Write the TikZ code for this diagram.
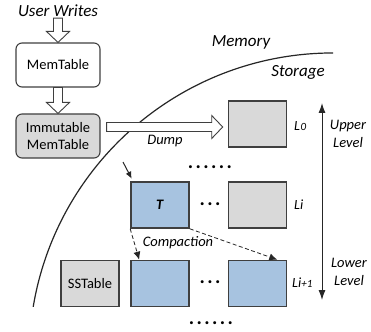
\documentclass[tikz,border=0pt]{standalone}
\usepackage{fontspec}
\setmainfont{Carlito}
\usetikzlibrary{calc,arrows.meta}

\definecolor{edge}{HTML}{3F3F3F}
\definecolor{ink}{HTML}{262626}
\definecolor{boxgray}{HTML}{D9D9D9}
\definecolor{boxblue}{HTML}{A7C3E0}

\tikzset{
  body/.style={font=\fontsize{14.5}{17.5}\selectfont},
  title/.style={font=\fontsize{17}{20}\selectfont\itshape},
  note/.style={font=\fontsize{14.5}{18}\selectfont\itshape},
  lvl/.style={font=\fontsize{14}{16}\selectfont\itshape, anchor=west, inner sep=0},
  dotrow/.style={font=\fontsize{20}{20}\selectfont\bfseries\addfontfeature{LetterSpace=12}, inner sep=0},
  memtab/.style={draw=edge, line width=1.1, rounded corners=6, minimum width=84,
    minimum height=44, align=center, inner sep=0, body},
  sst/.style={draw=edge, line width=1.6, minimum width=58, minimum height=46,
    inner sep=0, body},
  graybox/.style={sst, fill=boxgray},
  bluebox/.style={sst, fill=boxblue},
  % wide open block arrow from the start point to the target point
  hollow/.style={draw=edge, fill=white, line width=0.9,
    to path={let \p1=(\tikztostart), \p2=(\tikztotarget),
      \n1={atan2(\y2-\y1,\x2-\x1)}, \n2={veclen(\x2-\x1,\y2-\y1)} in
      [shift={(\p1)}, rotate=\n1]
      (0,-4.5) -- ({\n2-11},-4.5) -- ({\n2-11},-11.5) -- (\n2,0)
      -- ({\n2-11},11.5) -- ({\n2-11},4.5) -- (0,4.5) -- cycle}},
  flow/.style={draw=ink, line width=0.8, dash pattern=on 4pt off 2.5pt,
    -{Latex[length=8pt,width=7pt]}},
  feed/.style={draw=ink, line width=1, -{Latex[length=7pt,width=6pt]}},
  span/.style={draw=ink, line width=1,
    {Latex[length=10pt,width=7pt]}-{Latex[length=10pt,width=7pt]}},
  boundary/.style={draw=ink, line width=1.2}
}

\begin{document}
\begin{tikzpicture}[x=1pt,y=-1pt]
  \path[fill=white, use as bounding box] (0,0) rectangle (371,331);

  % memory side
  \node[title, inner sep=1] (uw) at (58,11) {User Writes};
  \node[memtab, fill=white] (mem) at (58,65) {MemTable};
  \node[memtab, fill=boxgray] (imm) at (58,136) {Immutable\\MemTable};

  % memory / storage boundary
  \draw[boundary] (33.2,306.8) arc[start angle=189.5, end angle=270, radius=304];
  \node[title] (memlbl) at (241,42) {Memory};
  \node[title] (stolbl) at (298,72) {Storage};

  % storage levels
  \node[graybox] (l0) at (257.5,124) {};
  \node[bluebox] (t)  at (160,205) {\textbf{\textit{T}}};
  \node[graybox] (li) at (257.5,205) {};
  \node[graybox] (ss) at (90,283.5) {SSTable};
  \node[bluebox] (tl) at (160,283.5) {};
  \node[bluebox] (lip) at (257.5,283.5) {};

  \node[lvl] (n0) at (294,126) {L\kern0.5pt{\fontsize{11}{12}\selectfont 0}};
  \node[lvl] (ni) at (294,205) {Li};
  \node[lvl] (nip) at (292,283) {Li{\fontsize{11}{12}\selectfont +1}};

  \node[dotrow] (d1) at (210,167) {......};
  \node[dotrow] (d2) at (210,204) {...};
  \node[dotrow] (d3) at (210,282) {...};
  \node[dotrow] (d4) at (211,323) {......};

  % block arrows
  \draw[hollow] (uw.south) to (mem.north);
  \draw[hollow] (mem.south) to (imm.north);
  \draw[hollow] ($(imm.east)+(6,-9)$) to ($(l0.west)+(-5,3)$);
  \node[note] (dump) at (165,141) {Dump};

  % compaction
  \coordinate (pick) at (123,162);
  \draw[feed] (pick) -- ($(t.north west)+(1.5,-2.5)$);
  \draw[flow] (t.south west) -- ($(tl.north west)+(9,0)$);
  \draw[flow] (t.south east) -- ($(lip.north east)+(-10,0)$);
  \node[note] (comp) at (178,243) {Compaction};

  % level direction
  \coordinate (top) at (322,103);
  \coordinate (bot) at (322,300);
  \draw[span] (top) -- (bot);
  \node[note, align=center] (up) at (348,134) {Upper\\Level};
  \node[note, align=center] (low) at (349,272) {Lower\\Level};
\end{tikzpicture}
\end{document}
